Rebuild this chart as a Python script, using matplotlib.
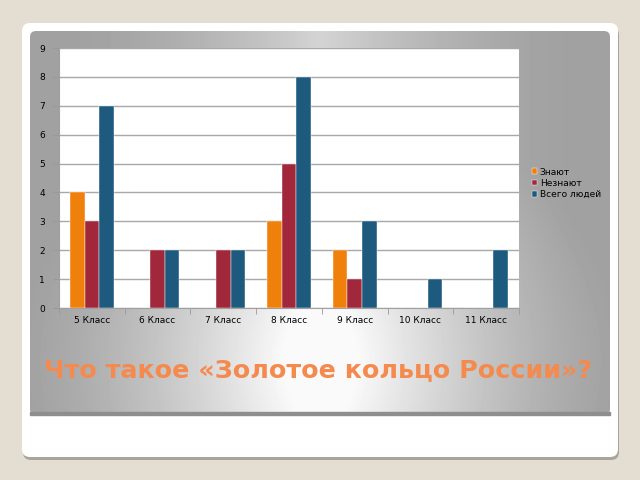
import numpy as np
import matplotlib
matplotlib.use("Agg")
import matplotlib.pyplot as plt
from matplotlib.patches import FancyBboxPatch, Rectangle

classes = ["5 Класс", "6 Класс", "7 Класс", "8 Класс", "9 Класс", "10 Класс", "11 Класс"]
know = [4, 0, 0, 3, 2, 0, 0]
dont_know = [3, 2, 2, 5, 1, 0, 0]
total = [7, 2, 2, 8, 3, 1, 2]
series_names = ["Знают", "Незнают", "Всего людей"]
colors = ["#F0800C", "#A0283A", "#1D5A7E"]
title = "Что такое «Золотое кольцо России»?"

W, H = 640, 480
fig = plt.figure(figsize=(6.4, 4.8), dpi=100)
fig.patch.set_facecolor("#E3DDD2")

# background slide decoration, in pixel coords
bg = fig.add_axes([0, 0, 1, 1])
bg.axis("off")
bg.add_patch(Rectangle((0, 0), W, H, color="#E3DDD2"))
# shadow of the white card
bg.add_patch(FancyBboxPatch((23, 27), 596, 433, boxstyle="round,pad=0,rounding_size=8",
                            fc="#A8A59C", ec="none"))
bg.add_patch(FancyBboxPatch((22, 23), 596, 434, boxstyle="round,pad=0,rounding_size=8",
                            fc="white", ec="none"))

# grey gradient panel
panel = FancyBboxPatch((30, 31), 580, 384, boxstyle="round,pad=0,rounding_size=6",
                       fc="none", ec="none")
bg.add_patch(panel)
yy, xx = np.mgrid[0:384, 0:580]
hx = np.clip(1 - np.abs(xx - 290) / 260.0, 0, 1) ** 1.6
rad = np.clip(1 - np.sqrt(((xx - 290) / 300.0) ** 2 + ((yy - 330) / 260.0) ** 2), 0, 1)
vals = 0.63 + 0.2 * hx + 0.22 * rad
vals = np.clip(vals, 0, 0.98)
im = bg.imshow(vals, cmap="gray", vmin=0, vmax=1, extent=(30, 610, 415, 31),
               interpolation="bilinear", zorder=1)
im.set_clip_path(panel)
bg.add_patch(Rectangle((30, 412), 580, 3, color="#8E8E8E", zorder=2))
bg.set_xlim(0, W)
bg.set_ylim(H, 0)

bg.text(318, 370, title, color="#F58A4E", fontsize=18.3, fontweight="bold",
        ha="center", va="center", zorder=3)

# chart
ax = fig.add_axes([59 / W, 1 - 308 / H, 460 / W, 260 / H])
ax.set_facecolor("white")
x = np.arange(len(classes))
bw = 1 / 4.5
for i, (vals_s, c, name) in enumerate(zip([know, dont_know, total], colors, series_names)):
    ax.bar(x + (i - 1) * bw, vals_s, width=bw, color=c, label=name, zorder=3,
           edgecolor="white", linewidth=0.3)
ax.set_xlim(-0.5, len(classes) - 0.5)
ax.set_ylim(0, 9)
ax.set_yticks(range(10))
ax.yaxis.grid(True, color="#A8A8A8", linewidth=1, zorder=0)
ax.set_xticks(x)
ax.set_xticklabels(classes, fontsize=6.5)
ax.set_xticks(np.arange(-0.5, len(classes)), minor=True)
ax.tick_params(axis="x", which="major", length=0, pad=6)
ax.tick_params(axis="x", which="minor", length=4, color="#999999")
ax.tick_params(axis="y", length=4, color="#999999", labelsize=6.5, pad=6)
for s in ["top", "right"]:
    ax.spines[s].set_visible(False)
for s in ["left", "bottom"]:
    ax.spines[s].set_color("#A0A0A0")

leg = fig.legend(loc="upper left", bbox_to_anchor=(527 / W, 1 - 163 / H), frameon=False,
                 fontsize=6.5, handlelength=0.6, handleheight=0.6, handletextpad=0.3,
                 labelspacing=0.25, borderpad=0)

fig.savefig("out.png", dpi=100, facecolor=fig.get_facecolor())
